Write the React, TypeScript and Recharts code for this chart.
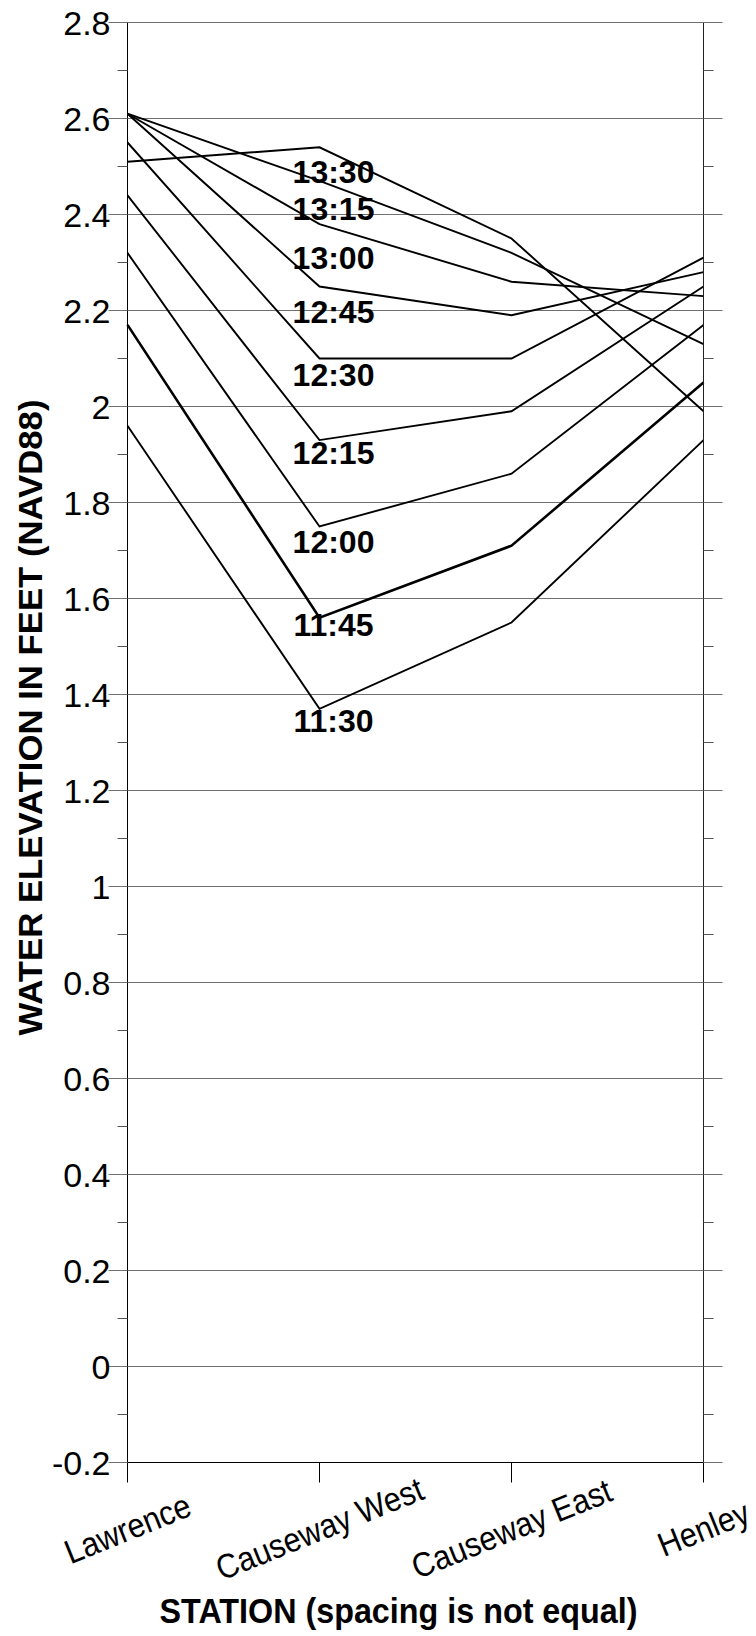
import { LineChart, Line, XAxis, YAxis, CartesianGrid, Label } from 'recharts'

const FONT = '"Liberation Sans", Arial, Helvetica, sans-serif'
const GRID = '#707070'

// stations along the river, left to right
const stations = ['Lawrence', 'Causeway West', 'Causeway East', 'Henley']

// water elevation (ft, NAVD88) at each station, one list per observation time
const elev1130 = [1.96, 1.37, 1.55, 1.93]
const elev1145 = [2.17, 1.56, 1.71, 2.05]
const elev1200 = [2.32, 1.75, 1.86, 2.17]
const elev1215 = [2.44, 1.93, 1.99, 2.25]
const elev1230 = [2.55, 2.1, 2.1, 2.31]
const elev1245 = [2.61, 2.25, 2.19, 2.28]
const elev1300 = [2.61, 2.38, 2.26, 2.23]
const elev1315 = [2.61, 2.47, 2.32, 2.13]
const elev1330 = [2.51, 2.54, 2.35, 1.99]

const majorTicks = [
  -0.2, 0, 0.2, 0.4, 0.6, 0.8, 1, 1.2, 1.4, 1.6, 1.8, 2, 2.2, 2.4, 2.6, 2.8,
]
const minorTicks = [
  -0.1, 0.1, 0.3, 0.5, 0.7, 0.9, 1.1, 1.3, 1.5, 1.7, 1.9, 2.1, 2.3, 2.5, 2.7,
]
const allTicks = [...majorTicks, ...minorTicks].sort((a, b) => a - b)

const series = [
  { key: 't1130', time: '11:30', values: elev1130 },
  { key: 't1145', time: '11:45', values: elev1145 },
  { key: 't1200', time: '12:00', values: elev1200 },
  { key: 't1215', time: '12:15', values: elev1215 },
  { key: 't1230', time: '12:30', values: elev1230 },
  { key: 't1245', time: '12:45', values: elev1245 },
  { key: 't1300', time: '13:00', values: elev1300 },
  { key: 't1315', time: '13:15', values: elev1315 },
  { key: 't1330', time: '13:30', values: elev1330 },
]

// how far below the Causeway West point each time tag sits
const tagDrop: Record<string, number> = {
  '11:30': 12,
  '11:45': 7,
  '12:00': 15,
  '12:15': 12,
  '12:30': 16,
  '12:45': 25,
  '13:00': 33,
  '13:15': 28,
  '13:30': 24,
}

const data = stations.map((station, i) => {
  const row: Record<string, string | number> = { station }
  series.forEach((s) => {
    row[s.key] = s.values[i]
  })
  return row
})

const LeftTick = (props: any) => {
  const { x, y, payload } = props
  const major = majorTicks.includes(payload.value)
  return (
    <g>
      <line
        x1={x - (major ? 19 : 10)}
        x2={x}
        y1={y}
        y2={y}
        stroke={major ? GRID : '#555'}
      />
      {major && (
        <text
          x={x - 17}
          y={y}
          dy={12}
          textAnchor="end"
          fontSize={34}
          fontFamily={FONT}
          fill="#000"
        >
          {String(payload.value)}
        </text>
      )}
    </g>
  )
}

const RightTick = (props: any) => {
  const { x, y, payload } = props
  const major = majorTicks.includes(payload.value)
  return (
    <line
      x1={x}
      x2={x + (major ? 19 : 10)}
      y1={y}
      y2={y}
      stroke={major ? GRID : '#555'}
    />
  )
}

// station names: slanted and a little narrowed, centred under the tick
const StationTick = (props: any) => {
  const { x, y, payload } = props
  const cy = y + 46
  return (
    <text
      x={0}
      y={0}
      dy="0.35em"
      textAnchor="middle"
      transform={`translate(${x} ${cy}) rotate(-22) scale(0.9 1)`}
      fontSize={34}
      fontFamily={FONT}
      fill="#000"
    >
      {payload.value}
    </text>
  )
}

const timeTag = (time: string) => (p: any) => {
  if (p.index !== 1) return <g key={`${time}-${p.index}`} />
  return (
    <text
      key={`${time}-${p.index}`}
      x={p.cx + 14}
      y={p.cy + tagDrop[time]}
      dy={11.5}
      textAnchor="middle"
      fontSize={32}
      fontWeight="bold"
      fontFamily={FONT}
      fill="#000"
    >
      {time}
    </text>
  )
}

const YTitle = (props: any) => {
  const vb = props.viewBox
  const x = 30
  const y = vb.y + vb.height / 2 - 25
  return (
    <text
      x={x}
      y={y}
      dy="0.36em"
      textAnchor="middle"
      transform={`rotate(-90 ${x} ${y})`}
      fontSize={34}
      fontWeight="bold"
      fontFamily={FONT}
      textLength={636}
      lengthAdjust="spacingAndGlyphs"
      fill="#000"
    >
      WATER ELEVATION IN FEET (NAVD88)
    </text>
  )
}

const XTitle = (props: any) => {
  const vb = props.viewBox
  const x = vb.x + vb.width / 2 - 17
  return (
    <text
      x={x}
      y={1623}
      textAnchor="middle"
      fontSize={35}
      fontWeight="bold"
      fontFamily={FONT}
      textLength={478}
      lengthAdjust="spacingAndGlyphs"
      fill="#000"
    >
      STATION (spacing is not equal)
    </text>
  )
}

export default function App() {
  return (
    <div
      style={{
        position: 'absolute',
        left: 0,
        top: 0,
        background: '#fff',
        fontFamily: FONT,
      }}
    >
      <LineChart
        width={756}
        height={1636}
        data={data}
        margin={{ top: 22.5, right: 0, bottom: 0, left: 0 }}
      >
        <CartesianGrid
          yAxisId="left"
          vertical={false}
          horizontalValues={majorTicks}
          stroke={GRID}
          strokeWidth={1}
        />
        <XAxis
          dataKey="station"
          height={173.5}
          interval={0}
          axisLine={{ stroke: '#000', strokeWidth: 1 }}
          tickLine={{ stroke: '#000', strokeWidth: 1 }}
          tickSize={20}
          tickMargin={0}
          tick={<StationTick />}
          label={<Label content={<XTitle />} />}
        />
        <YAxis
          yAxisId="left"
          type="number"
          domain={[-0.2, 2.8]}
          allowDataOverflow
          ticks={allTicks}
          interval={0}
          width={127.5}
          axisLine={{ stroke: '#000', strokeWidth: 1 }}
          tickLine={false}
          tickSize={0}
          tickMargin={0}
          tick={<LeftTick />}
          label={<Label content={<YTitle />} />}
        />
        <YAxis
          yAxisId="right"
          orientation="right"
          type="number"
          domain={[-0.2, 2.8]}
          allowDataOverflow
          ticks={allTicks}
          interval={0}
          width={52.5}
          axisLine={{ stroke: '#222', strokeWidth: 1 }}
          tickLine={false}
          tickSize={0}
          tickMargin={0}
          tick={<RightTick />}
        />
        {series.map((s) => (
          <Line
            key={s.key}
            yAxisId="left"
            type="linear"
            dataKey={s.key}
            stroke="#000"
            strokeWidth={s.time === '11:45' ? 2.6 : 1.9}
            dot={timeTag(s.time)}
            activeDot={false}
            isAnimationActive={false}
          />
        ))}
      </LineChart>
    </div>
  )
}
